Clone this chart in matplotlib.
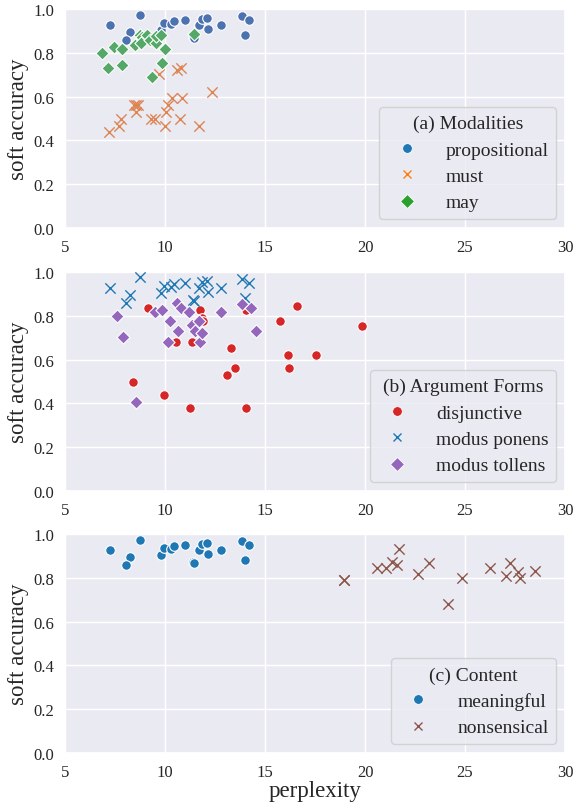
import matplotlib
matplotlib.use("Agg")
import matplotlib.pyplot as plt
from matplotlib.lines import Line2D
import seaborn as sns

# propositional / modus ponens / meaningful share the same points
prop_ppl = [7.23, 8.76, 8.26, 8.06, 9.81, 9.95, 10.3, 10.45, 11.02, 11.4, 11.45,
            11.72, 11.86, 12.08, 12.13, 12.81, 13.86, 14.21, 14.0]
prop_acc = [0.925, 0.975, 0.893, 0.859, 0.905, 0.937, 0.932, 0.946, 0.952, 0.871, 0.866,
            0.929, 0.955, 0.96, 0.909, 0.925, 0.97, 0.952, 0.882]

must_ppl = [7.18, 7.70, 7.78, 8.43, 8.53, 8.63, 8.56, 9.3, 9.52, 9.7, 10.02, 10.07,
            10.15, 10.34, 10.58, 10.78, 10.84, 10.74, 11.71, 12.35]
must_acc = [0.438, 0.467, 0.497, 0.562, 0.562, 0.562, 0.528, 0.499, 0.499, 0.705, 0.467, 0.531,
            0.562, 0.592, 0.72, 0.731, 0.592, 0.499, 0.467, 0.621]

may_ppl = [6.85, 7.13, 7.43, 7.83, 7.83, 8.48, 8.76, 8.86, 8.81, 9.1, 9.27, 9.54,
           9.57, 9.82, 9.98, 9.83, 9.33, 11.43]
may_acc = [0.80, 0.731, 0.826, 0.818, 0.743, 0.836, 0.882, 0.874, 0.845, 0.883, 0.86, 0.844,
           0.879, 0.882, 0.818, 0.755, 0.691, 0.888]

disj_ppl = [9.13, 8.40, 9.97, 10.57, 11.24, 11.36, 11.76, 11.84, 11.9, 13.1, 13.3, 13.5,
            14.05, 14.05, 15.74, 16.17, 16.19, 16.6, 17.54, 19.87]
disj_acc = [0.836, 0.499, 0.438, 0.680, 0.377, 0.680, 0.826, 0.79, 0.776, 0.531, 0.651, 0.562,
            0.826, 0.377, 0.776, 0.623, 0.562, 0.843, 0.623, 0.755]

mt_ppl = [7.59, 7.92, 8.55, 9.5, 9.87, 10.25, 10.14, 10.62, 10.79, 10.64, 11.21, 11.34,
          11.49, 11.69, 11.75, 11.84, 12.78, 13.85, 14.31, 14.56]
mt_acc = [0.798, 0.705, 0.406, 0.817, 0.826, 0.778, 0.680, 0.860, 0.834, 0.730, 0.817, 0.757,
          0.730, 0.778, 0.680, 0.720, 0.817, 0.852, 0.834, 0.730]

nons_ppl = [18.95, 18.97, 20.62, 21.03, 21.34, 21.62, 21.72, 22.67, 23.22, 24.14, 24.84,
            26.24, 27.05, 27.24, 27.64, 27.77, 28.49]
nons_acc = [0.79, 0.79, 0.844, 0.844, 0.871, 0.859, 0.932, 0.818, 0.868, 0.680, 0.799,
            0.844, 0.808, 0.868, 0.826, 0.799, 0.829]

sns.set_theme(style="darkgrid")
plt.rcParams["font.family"] = ["Liberation Serif", "DejaVu Serif"]

fig = plt.figure(figsize=(5.79, 8.03), dpi=100)
ax1 = fig.add_axes([0.1123, 0.7148, 0.8636, 0.2727])
ax2 = fig.add_axes([0.1123, 0.3873, 0.8636, 0.2727])
ax3 = fig.add_axes([0.1123, 0.0610, 0.8636, 0.2727])

deep = sns.color_palette("deep")
tab = sns.color_palette("tab10")


def dot(ax, x, y, color, marker, s):
    if marker == "x":
        ax.scatter(x, y, c=[color], marker="x", s=s, linewidths=1.0, zorder=3)
    else:
        ax.scatter(x, y, c=[color], marker=marker, s=s, edgecolors="white",
                   linewidths=0.8, zorder=3)


def handle(color, marker, label):
    if marker == "x":
        return Line2D([], [], ls="", marker="x", color=color, markersize=6,
                      markeredgewidth=1.0, label=label)
    return Line2D([], [], ls="", marker=marker, color=color, markersize=7,
                  markeredgecolor="white", markeredgewidth=0.6, label=label)


def add_legend(ax, handles, title):
    ax.legend(handles=handles, title=title, loc="lower right", fontsize=14,
              title_fontsize=14, borderaxespad=0.45, handletextpad=1.0,
              labelspacing=0.45)


# (a) modalities
dot(ax1, prop_ppl, prop_acc, deep[0], "o", 48)
dot(ax1, must_ppl, must_acc, deep[1], "x", 55)
dot(ax1, may_ppl, may_acc, deep[2], "D", 45)
add_legend(ax1, [handle(tab[0], "o", "propositional"), handle(tab[1], "x", "must"),
                 handle(tab[2], "D", "may")], "(a) Modalities")

# (b) argument forms
dot(ax2, disj_ppl, disj_acc, tab[3], "o", 48)
dot(ax2, prop_ppl, prop_acc, tab[0], "x", 55)
dot(ax2, mt_ppl, mt_acc, tab[4], "D", 45)
add_legend(ax2, [handle(tab[3], "o", "disjunctive"), handle(tab[0], "x", "modus ponens"),
                 handle(tab[4], "D", "modus tollens")], "(b) Argument Forms")

# (c) content
dot(ax3, prop_ppl, prop_acc, tab[0], "o", 48)
dot(ax3, nons_ppl, nons_acc, tab[5], "x", 55)
add_legend(ax3, [handle(tab[0], "o", "meaningful"), handle(tab[5], "x", "nonsensical")],
           "(c) Content")

for ax in (ax1, ax2, ax3):
    ax.set_xlim(5, 30)
    ax.set_ylim(0, 1)
    ax.set_xticks([5, 10, 15, 20, 25, 30])
    ax.set_yticks([0.0, 0.2, 0.4, 0.6, 0.8, 1.0])
    ax.tick_params(labelsize=12, pad=2)
    ax.set_ylabel("soft accuracy", fontsize=16.5, labelpad=3)
ax3.set_xlabel("perplexity", fontsize=16.5, labelpad=0)

fig.savefig("out.png", dpi=100)
